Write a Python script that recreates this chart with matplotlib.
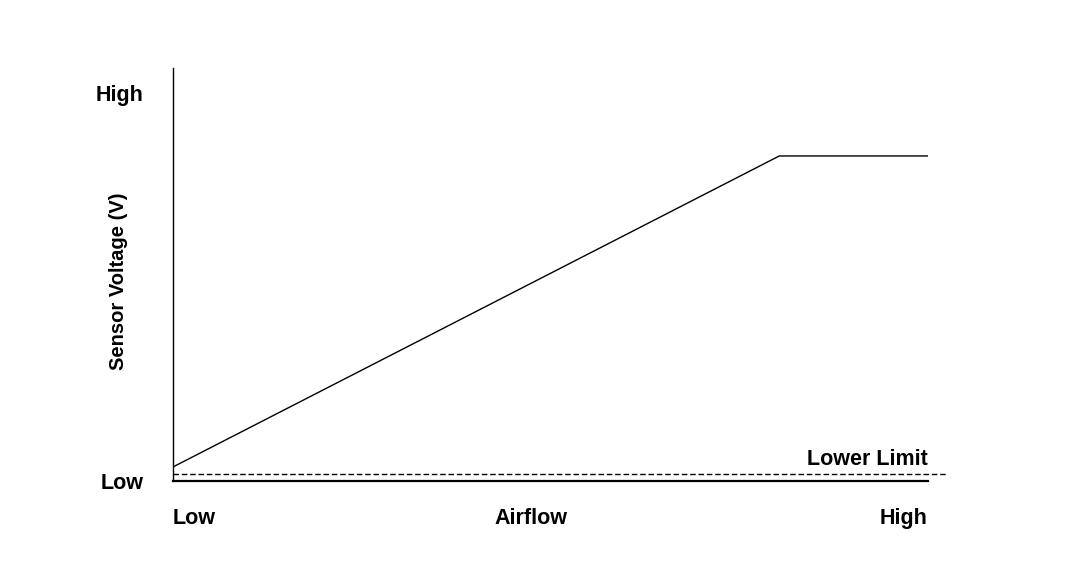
import matplotlib
matplotlib.use("Agg")
import matplotlib.pyplot as plt

plt.rcParams['font.family'] = ['Liberation Sans', 'DejaVu Sans']

# airflow (0-100) vs sensor voltage (0-100), arbitrary units
airflow = [0, 80.3, 100]
voltage = [3.4, 78.7, 78.7]
lower_limit = 1.7
x_ticks = [0, 47.4, 100]
x_labels = ['Low', 'Airflow', 'High']
y_ticks = [0, 94]
y_labels = ['Low', 'High']

FS = 15.5

fig = plt.figure(figsize=(10.72, 5.66), dpi=100)
ax = fig.add_axes([173/1072, 1-481/566, (928-173)/1072, (481-68)/566])

ax.plot(airflow, voltage, color='black', lw=1.0)
ax.plot([0, 102.5], [lower_limit, lower_limit], color='black', lw=1.0,
        ls=(0, (4, 2)), clip_on=False)
ax.text(100, 5.3, 'Lower Limit', ha='right', va='center', fontsize=FS,
        fontweight='bold')

ax.set_xlim(0, 100)
ax.set_ylim(0, 100)
for s in ['top', 'right']:
    ax.spines[s].set_visible(False)
ax.spines['left'].set_linewidth(1.0)
ax.spines['bottom'].set_linewidth(1.6)

ax.set_yticks(y_ticks)
ax.set_yticklabels(y_labels, fontsize=FS, fontweight='bold')
ax.tick_params(axis='y', length=0, pad=21.5)
ax.set_xticks([])
for xv, lab in zip(x_ticks, x_labels):
    ha = 'left' if xv == 0 else ('right' if xv == 100 else 'center')
    ax.text(xv, -9.1, lab, ha=ha, va='center', fontsize=FS, fontweight='bold')

fig.text(118/1072, 1-281/566, 'Sensor Voltage (V)', rotation=90, ha='center',
         va='center', fontsize=14.5, fontweight='bold')

fig.savefig('out.png', dpi=100)
